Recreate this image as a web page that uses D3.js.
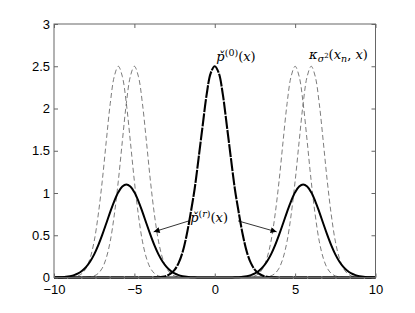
<!DOCTYPE html>
<html>
<head>
<meta charset="utf-8">
<script src="https://cdn.jsdelivr.net/npm/d3@7"></script>
<style>
	body { margin: 0; background: #fff; }
	.tick text { font-family: "Liberation Sans", Arial, sans-serif; font-size: 13px; fill: #000; }
</style>
</head>
<body>
<div class="canvas"></div>
<script>

// x grid the curves were sampled on (step 0.25 from -10 to 10)
var xGrid = d3.range(0, 81).map(function(i){ return -10 + i * 0.25; });

var xTicks = [-10, -5, 0, 5, 10];
var yTicks = [0, 0.5, 1, 1.5, 2, 2.5, 3];

// dashed kernels kappa(x_n, x)
var kernelA = [
	0, 0, 0, 0.001, 0.002, 0.007, 0.019, 0.048, 0.11, 0.23,
	0.43, 0.74, 1.14, 1.61, 2.06, 2.38, 2.5, 2.38, 2.06, 1.61,
	1.14, 0.74, 0.43, 0.23, 0.11, 0.048, 0.019, 0.007, 0.002, 0.001,
	0, 0, 0, 0, 0, 0, 0, 0, 0, 0,
	0, 0, 0, 0, 0, 0, 0, 0, 0, 0,
	0, 0, 0, 0, 0, 0, 0, 0, 0, 0,
	0, 0, 0, 0, 0, 0, 0, 0, 0, 0,
	0, 0, 0, 0, 0, 0, 0, 0, 0, 0,
	0
];
var kernelB = [
	0, 0, 0, 0, 0, 0, 0, 0.001, 0.002, 0.007,
	0.019, 0.048, 0.11, 0.23, 0.43, 0.74, 1.14, 1.61, 2.06, 2.38,
	2.5, 2.38, 2.06, 1.61, 1.14, 0.74, 0.43, 0.23, 0.11, 0.048,
	0.019, 0.007, 0.002, 0.001, 0, 0, 0, 0, 0, 0,
	0, 0, 0, 0, 0, 0, 0, 0, 0, 0,
	0, 0, 0, 0, 0, 0, 0, 0, 0, 0,
	0, 0, 0, 0, 0, 0, 0, 0, 0, 0,
	0, 0, 0, 0, 0, 0, 0, 0, 0, 0,
	0
];
var kernelC = [
	0, 0, 0, 0, 0, 0, 0, 0, 0, 0,
	0, 0, 0, 0, 0, 0, 0, 0, 0, 0,
	0, 0, 0, 0, 0, 0, 0, 0, 0, 0,
	0, 0, 0, 0, 0, 0, 0, 0, 0, 0,
	0, 0, 0, 0, 0, 0, 0, 0.001, 0.002, 0.007,
	0.019, 0.048, 0.11, 0.23, 0.43, 0.74, 1.14, 1.61, 2.06, 2.38,
	2.5, 2.38, 2.06, 1.61, 1.14, 0.74, 0.43, 0.23, 0.11, 0.048,
	0.019, 0.007, 0.002, 0.001, 0, 0, 0, 0, 0, 0,
	0
];
var kernelD = [
	0, 0, 0, 0, 0, 0, 0, 0, 0, 0,
	0, 0, 0, 0, 0, 0, 0, 0, 0, 0,
	0, 0, 0, 0, 0, 0, 0, 0, 0, 0,
	0, 0, 0, 0, 0, 0, 0, 0, 0, 0,
	0, 0, 0, 0, 0, 0, 0, 0, 0, 0,
	0, 0.001, 0.002, 0.007, 0.019, 0.048, 0.11, 0.23, 0.43, 0.74,
	1.14, 1.61, 2.06, 2.38, 2.5, 2.38, 2.06, 1.61, 1.14, 0.74,
	0.43, 0.23, 0.11, 0.048, 0.019, 0.007, 0.002, 0.001, 0, 0,
	0
];

// p^(0)(x), thick long-dashed curve in the middle
var pZero = [
	0, 0, 0, 0, 0, 0, 0, 0, 0, 0,
	0, 0, 0, 0, 0, 0, 0, 0, 0, 0,
	0, 0, 0, 0, 0, 0.001, 0.003, 0.008, 0.02, 0.045,
	0.09, 0.17, 0.3, 0.5, 0.76, 1.05, 1.42, 1.8, 2.17, 2.42,
	2.5, 2.42, 2.17, 1.8, 1.42, 1.05, 0.76, 0.5, 0.3, 0.17,
	0.09, 0.045, 0.02, 0.008, 0.003, 0.001, 0, 0, 0, 0,
	0, 0, 0, 0, 0, 0, 0, 0, 0, 0,
	0, 0, 0, 0, 0, 0, 0, 0, 0, 0,
	0
];

// p^(r)(x), the two solid bumps
var pLeft = [
	0.001, 0.002, 0.004, 0.008, 0.016, 0.028, 0.048, 0.08, 0.126, 0.19,
	0.274, 0.38, 0.504, 0.639, 0.777, 0.905, 1.009, 1.076, 1.1, 1.076,
	1.009, 0.905, 0.777, 0.639, 0.504, 0.38, 0.274, 0.19, 0.126, 0.08,
	0.048, 0.028, 0.016, 0.008, 0.004, 0.002, 0.001, 0, 0, 0,
	0, 0, 0, 0, 0, 0, 0, 0, 0, 0,
	0, 0, 0, 0, 0, 0, 0, 0, 0, 0,
	0, 0, 0, 0, 0, 0, 0, 0, 0, 0,
	0, 0, 0, 0, 0, 0, 0, 0, 0, 0,
	0
];
var pRight = [
	0, 0, 0, 0, 0, 0, 0, 0, 0, 0,
	0, 0, 0, 0, 0, 0, 0, 0, 0, 0,
	0, 0, 0, 0, 0, 0, 0, 0, 0, 0,
	0, 0, 0, 0, 0, 0, 0, 0, 0, 0,
	0, 0, 0, 0, 0.001, 0.002, 0.004, 0.008, 0.016, 0.028,
	0.048, 0.08, 0.126, 0.19, 0.274, 0.38, 0.504, 0.639, 0.777, 0.905,
	1.009, 1.076, 1.1, 1.076, 1.009, 0.905, 0.777, 0.639, 0.504, 0.38,
	0.274, 0.19, 0.126, 0.08, 0.048, 0.028, 0.016, 0.008, 0.004, 0.002,
	0.001
];

// arrows [x1, y1, x2, y2] in data units, head at the second point
var arrows = [
	[-1.6, 0.67, -3.8, 0.54],
	[1.45, 0.67, 3.85, 0.54]
];

// labels: position in data units, pieces of text
var labels = [
	{ x: 0.1, y: 2.56, parts: [["p\u030C", "i"], ["(0)", "sup"], ["(", "n"], ["x", "i"], [")", "n"]] },
	{ x: 5.87, y: 2.585, parts: [["\u03BA", "i"], ["\u03C3", "subi"], ["2", "subsup"], ["(", "n"], ["x", "i"], ["n", "subi"], [", ", "n"], ["x", "i"], [")", "n"]] },
	{ x: -1.53, y: 0.66, parts: [["p\u030C", "i"], ["(", "sup"], ["r", "supi"], [")", "sup"], ["(", "n"], ["x", "i"], [")", "n"]] }
];


var width = 415, height = 313;
var plotLeft = 54, plotRight = 375.5, plotTop = 24, plotBottom = 277.5;

var svg = d3.select(".canvas")
				.append("svg")
				.attr("width", width)
				.attr("height", height);

var x = d3.scaleLinear().domain([-10, 10]).range([plotLeft, plotRight]);
var y = d3.scaleLinear().domain([0, 3]).range([plotBottom, plotTop]);

var line = d3.line()
				.x(function(d, i){ return x(xGrid[i]); })
				.y(function(d){ return y(d); })
				.curve(d3.curveCatmullRom);

// KERNELS
[kernelA, kernelB, kernelC, kernelD].forEach(function(k){
	svg.append("path")
		.attr("d", line(k))
		.attr("fill", "none")
		.attr("stroke", "#5a5a5a")
		.attr("stroke-width", 0.8)
		.attr("stroke-dasharray", "5,3");
});

// SOLID BUMPS
[pLeft, pRight].forEach(function(p){
	svg.append("path")
		.attr("d", line(p))
		.attr("fill", "none")
		.attr("stroke", "#000")
		.attr("stroke-width", 2);
});

// CENTER
svg.append("path")
	.attr("d", line(pZero))
	.attr("fill", "none")
	.attr("stroke", "#000")
	.attr("stroke-width", 2.1)
	.attr("stroke-dasharray", "13,1.2");

// FRAME AND AXES
svg.append("rect")
	.attr("x", plotLeft)
	.attr("y", plotTop)
	.attr("width", plotRight - plotLeft)
	.attr("height", plotBottom - plotTop)
	.attr("fill", "none")
	.attr("stroke", "#666")
	.attr("stroke-width", 1);

var fmt = function(d){ return d3.format("")(d); };

svg.append("g")
	.attr("transform", "translate(0," + plotBottom + ")")
	.call(d3.axisBottom(x).tickValues(xTicks).tickSize(-4).tickPadding(7).tickFormat(fmt))
	.call(function(g){ g.select(".domain").remove(); });

svg.append("g")
	.attr("transform", "translate(0," + plotTop + ")")
	.call(d3.axisTop(x).tickValues(xTicks).tickSize(-4).tickFormat(""))
	.call(function(g){ g.select(".domain").remove(); });

svg.append("g")
	.attr("transform", "translate(" + plotLeft + ",0)")
	.call(d3.axisLeft(y).tickValues(yTicks).tickSize(-4).tickPadding(4).tickFormat(fmt))
	.call(function(g){ g.select(".domain").remove(); });

svg.append("g")
	.attr("transform", "translate(" + plotRight + ",0)")
	.call(d3.axisRight(y).tickValues(yTicks).tickSize(-4).tickFormat(""))
	.call(function(g){ g.select(".domain").remove(); });

svg.selectAll(".tick line").attr("stroke", "#666");

// ARROWS
svg.append("defs").append("marker")
	.attr("id", "head")
	.attr("viewBox", "0 0 10 10")
	.attr("refX", 10)
	.attr("refY", 5)
	.attr("markerWidth", 10)
	.attr("markerHeight", 6)
	.attr("markerUnits", "userSpaceOnUse")
	.attr("orient", "auto")
	.append("path")
	.attr("d", "M0,0 L10,5 L0,10 z")
	.attr("fill", "#000");

arrows.forEach(function(a){
	svg.append("line")
		.attr("x1", x(a[0]))
		.attr("y1", y(a[1]))
		.attr("x2", x(a[2]))
		.attr("y2", y(a[3]))
		.attr("stroke", "#000")
		.attr("stroke-width", 0.8)
		.attr("marker-end", "url(#head)");
});

// LABELS
labels.forEach(function(l){
	var t = svg.append("text")
		.attr("font-family", "'DejaVu Serif', 'Liberation Serif', serif")
		.attr("font-size", 13)
		.attr("fill", "#000")
		.attr("x", x(l.x))
		.attr("y", y(l.y));
	var shift = 0;
	l.parts.forEach(function(p){
		var s = t.append("tspan").text(p[0]);
		var want = 0, small = false;
		if (p[1] == "sup" || p[1] == "supi") { want = -5; small = true; }
		if (p[1] == "subi") { want = 3; small = true; }
		if (p[1] == "subsup") { want = -1; small = true; }
		if (small) s.attr("font-size", p[1] == "subsup" ? 7 : 9.5);
		if (p[1] == "i" || p[1] == "supi" || p[1] == "subi") s.attr("font-style", "italic");
		if (want != shift) { s.attr("dy", want - shift); shift = want; }
	});
});

</script>
</body>
</html>
